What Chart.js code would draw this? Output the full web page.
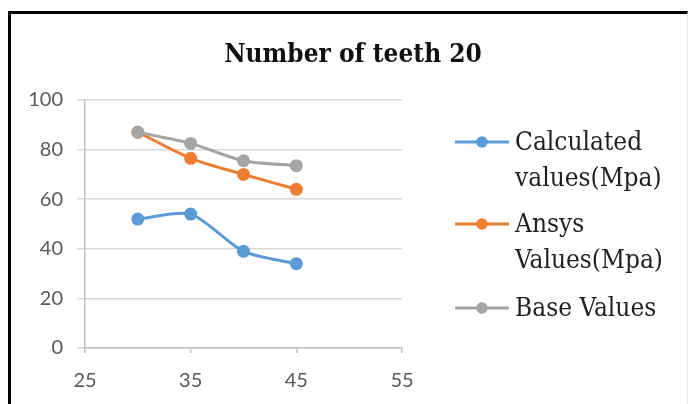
<!DOCTYPE html>
<html>
<head>
<meta charset="utf-8">
<script src="https://cdn.jsdelivr.net/npm/chart.js@4/dist/chart.umd.min.js"></script>
<style>
  html, body { margin: 0; padding: 0; background: #fff; }
  #wrap { position: relative; width: 691px; height: 404px; overflow: hidden; }
  #frame {
    position: absolute; left: 8px; top: 11px; width: 676px; height: 400px;
    border-top: 3px solid #000; border-left: 3px solid #000; border-right: 1px solid #e6e6e6;
    pointer-events: none;
  }
  canvas { position: absolute; left: 0; top: 0; }
</style>
</head>
<body>
<div id="wrap">
  <canvas id="c" width="691" height="404"></canvas>
  <div id="frame"></div>
</div>
<script>
// Number of teeth along the x axis
const teeth = [30, 35, 40, 45];
// Stress values in MPa
const calculatedValues = [52, 54, 39, 34];
const ansysValues = [87, 76.5, 70, 64];
const baseValues = [87, 82.5, 75.5, 73.5];
// Axis ticks
const xTicks = [25, 35, 45, 55];
const yTicks = [0, 20, 40, 60, 80, 100];

const chartTitle = 'Number of teeth 20';
const seriesNames = [['Calculated', 'values(Mpa)'], ['Ansys', 'Values(Mpa)'], ['Base Values']];
const seriesColors = ['#5b9bd5', '#ed7d31', '#a5a5a5'];
const seriesData = [calculatedValues, ansysValues, baseValues];

const serifFont = '"DejaVu Serif Condensed", "DejaVu Serif", serif';

const datasets = seriesData.map((vals, i) => ({
  label: seriesNames[i].join(' '),
  data: teeth.map((t, k) => ({ x: t, y: vals[k] })),
  borderColor: seriesColors[i],
  backgroundColor: seriesColors[i],
  pointBackgroundColor: seriesColors[i],
  pointBorderColor: seriesColors[i],
  pointRadius: 6.5,
  pointBorderWidth: 0,
  borderWidth: 3,
  tension: 0.25,
  order: seriesData.length - i
}));

// Title and legend drawn on the canvas in fixed places
const decorations = {
  id: 'decorations',
  afterDraw(chart) {
    const ctx = chart.ctx;
    ctx.save();
    ctx.fillStyle = '#111';
    ctx.font = 'bold 26px ' + serifFont;
    ctx.textAlign = 'center';
    ctx.textBaseline = 'alphabetic';
    ctx.fillText(chartTitle, 353, 62);

    const rows = [150, 232, 316];
    ctx.font = '26px ' + serifFont;
    ctx.textAlign = 'left';
    seriesNames.forEach((lines, i) => {
      const base = rows[i];
      const my = base - 8;
      ctx.strokeStyle = seriesColors[i];
      ctx.lineWidth = 3;
      ctx.beginPath();
      ctx.moveTo(455, my);
      ctx.lineTo(509, my);
      ctx.stroke();
      ctx.fillStyle = seriesColors[i];
      ctx.beginPath();
      ctx.arc(482, my, 5.8, 0, Math.PI * 2);
      ctx.fill();
      ctx.fillStyle = '#1f1f1f';
      lines.forEach((ln, j) => ctx.fillText(ln, 515, base + j * 36));
    });
    ctx.restore();
  }
};

new Chart(document.getElementById('c'), {
  type: 'line',
  data: { datasets },
  options: {
    responsive: false,
    animation: false,
    layout: { padding: { top: 100, left: 0, right: 289, bottom: 16 } },
    plugins: {
      legend: { display: false },
      title: { display: false },
      tooltip: { enabled: false }
    },
    scales: {
      x: {
        type: 'linear',
        min: xTicks[0],
        max: xTicks[xTicks.length - 1],
        afterBuildTicks(scale) { scale.ticks = xTicks.map(v => ({ value: v })); },
        afterFit(scale) { scale.height = 40; },
        grid: { drawOnChartArea: false, drawTicks: true, tickLength: 5, color: '#bfbfbf', lineWidth: 1.5 },
        border: { color: '#bfbfbf', width: 1.5 },
        ticks: { color: '#595959', font: { family: 'Lato', size: 20 }, padding: 16 }
      },
      y: {
        min: yTicks[0],
        max: yTicks[yTicks.length - 1],
        afterBuildTicks(scale) { scale.ticks = yTicks.map(v => ({ value: v })); },
        afterFit(scale) { scale.width = 85; },
        grid: { color: '#d9d9d9', lineWidth: 1.5, tickLength: 8 },
        border: { color: '#bfbfbf', width: 1.5 },
        ticks: { color: '#595959', font: { family: 'Lato', size: 20 }, padding: 14 }
      }
    }
  },
  plugins: [decorations]
});
</script>
</body>
</html>
